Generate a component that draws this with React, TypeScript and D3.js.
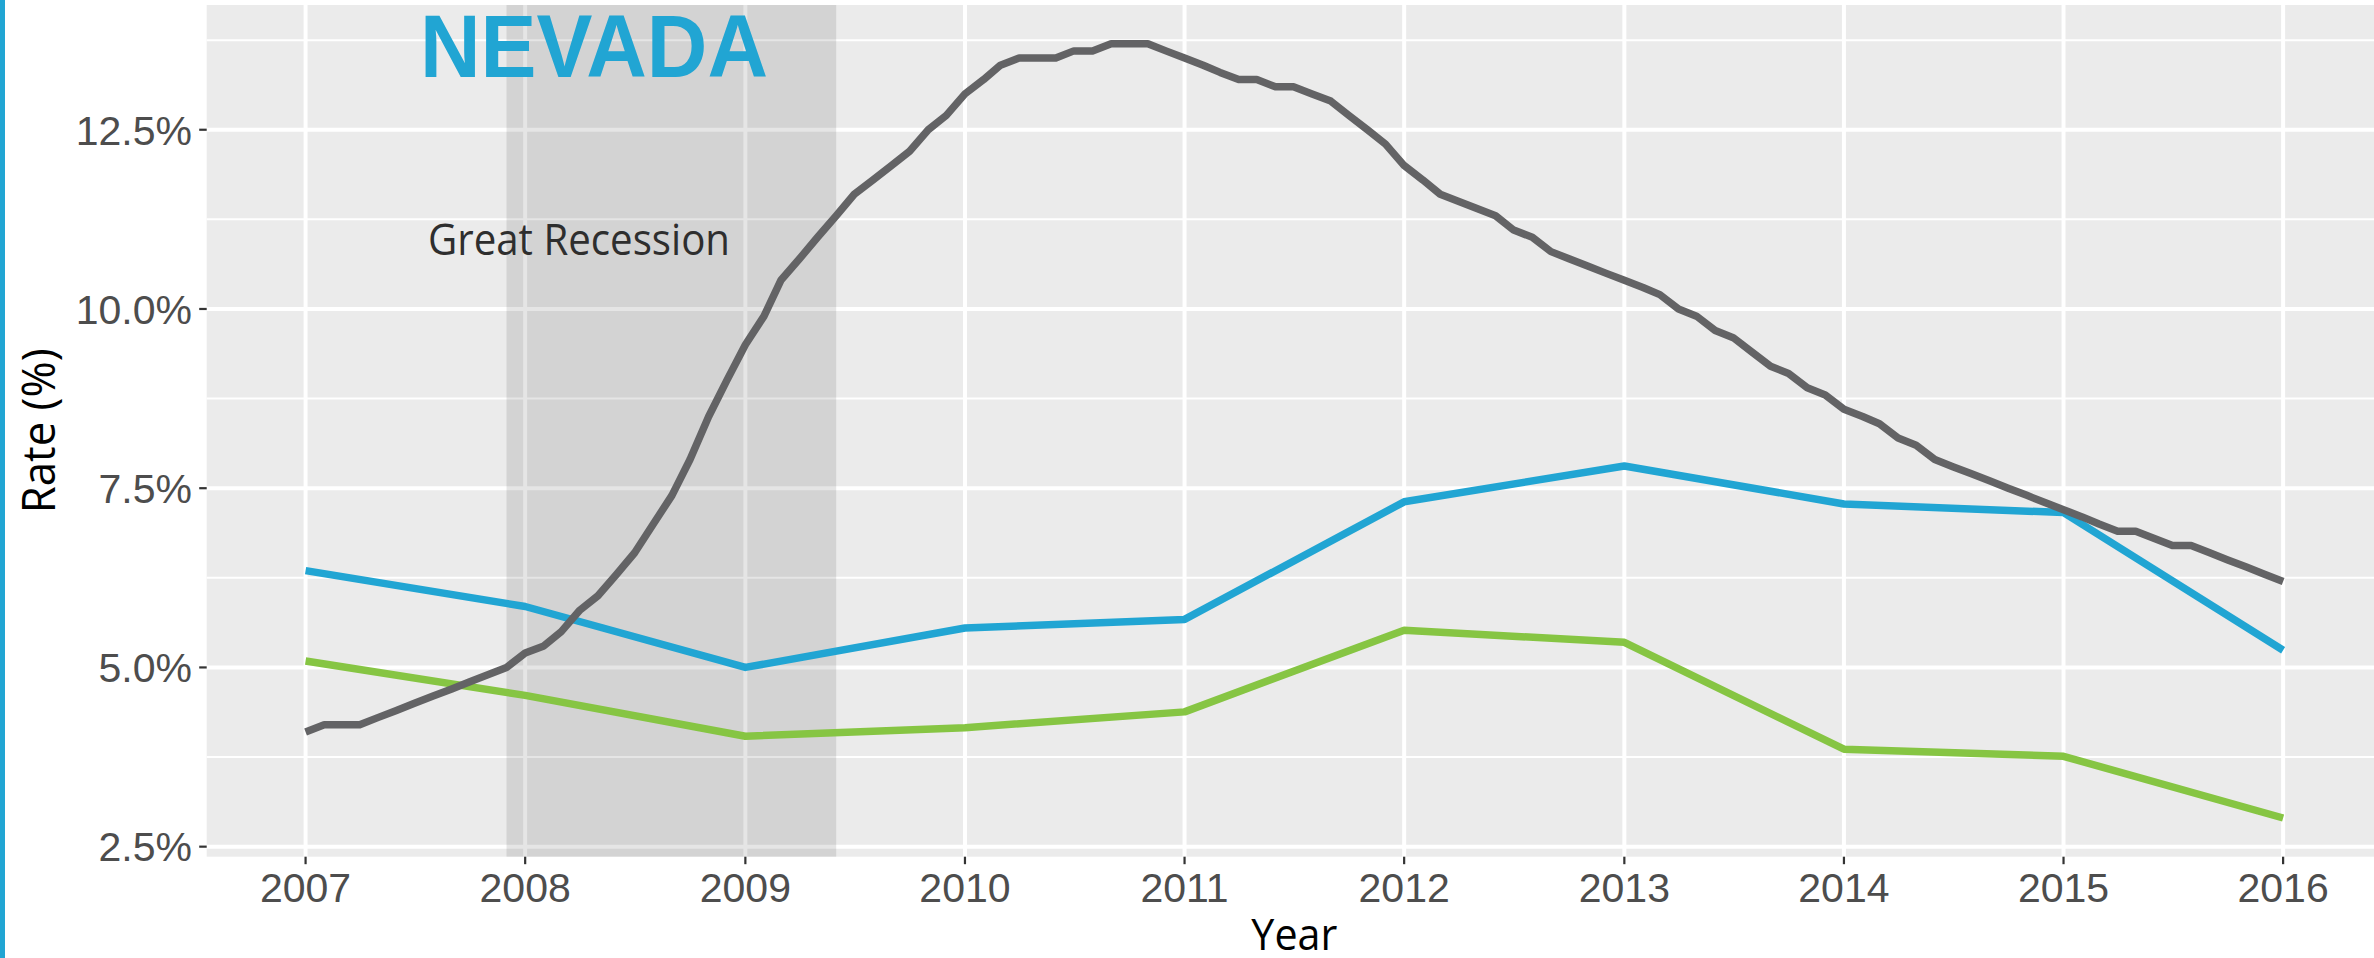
import React, { useEffect, useRef } from "react";
import * as d3 from "d3";

// annual series (Jan 1 of each year)
const years = [2007, 2008, 2009, 2010, 2011, 2012, 2013, 2014, 2015, 2016];
const blueRate = [6.35, 5.85, 5.0, 5.55, 5.67, 7.31, 7.81, 7.28, 7.16, 5.24];
const greenRate = [5.09, 4.61, 4.04, 4.16, 4.38, 5.52, 5.35, 3.86, 3.76, 2.9];

// monthly unemployment rate, Jan 2007 .. Jan 2016
const monthlyRate = [
  4.1, 4.2, 4.2, 4.2, 4.3, 4.4, 4.5, 4.6, 4.7, 4.8, 4.9, 5.0,
  5.2, 5.3, 5.5, 5.8, 6.0, 6.3, 6.6, 7.0, 7.4, 7.9, 8.5, 9.0,
  9.5, 9.9, 10.4, 10.7, 11.0, 11.3, 11.6, 11.8, 12.0, 12.2, 12.5, 12.7,
  13.0, 13.2, 13.4, 13.5, 13.5, 13.5, 13.6, 13.6, 13.7, 13.7, 13.7, 13.6,
  13.5, 13.4, 13.3, 13.2, 13.2, 13.1, 13.1, 13.0, 12.9, 12.7, 12.5, 12.3,
  12.0, 11.8, 11.6, 11.5, 11.4, 11.3, 11.1, 11.0, 10.8, 10.7, 10.6, 10.5,
  10.4, 10.3, 10.2, 10.0, 9.9, 9.7, 9.6, 9.4, 9.2, 9.1, 8.9, 8.8,
  8.6, 8.5, 8.4, 8.2, 8.1, 7.9, 7.8, 7.7, 7.6, 7.5, 7.4, 7.3,
  7.2, 7.1, 7.0, 6.9, 6.9, 6.8, 6.7, 6.7, 6.6, 6.5, 6.4, 6.3,
  6.2,
];

const yMajor = [2.5, 5, 7.5, 10, 12.5];
const yMinor = [3.75, 6.25, 8.75, 11.25, 13.75];
const recession = [new Date(Date.UTC(2007, 11, 1)), new Date(Date.UTC(2009, 5, 1))];

const W = 2374;
const H = 958;

function App() {
  const svgRef = useRef<SVGSVGElement>(null);

  useEffect(() => {
    const svg = d3.select(svgRef.current);
    svg.selectAll("*").remove();

    const panel = { left: 206.7, right: 2382, top: 5, bottom: 856.7 };

    const t0 = Date.UTC(years[0], 0, 1);
    const t1 = Date.UTC(years[years.length - 1], 0, 1);
    const tPad = (t1 - t0) * 0.05;
    const x = d3
      .scaleUtc()
      .domain([new Date(t0 - tPad), new Date(t1 + tPad)])
      .range([panel.left, panel.right]);

    const all = [...blueRate, ...greenRate, ...monthlyRate];
    const lo = d3.min(all)!;
    const hi = d3.max(all)!;
    const yPad = (hi - lo) * 0.05;
    const y = d3
      .scaleLinear()
      .domain([lo - yPad, hi + yPad])
      .range([panel.bottom, panel.top]);

    const yearDate = (yr: number) => new Date(Date.UTC(yr, 0, 1));

    // left blue accent bar
    svg.append("rect").attr("x", 0).attr("y", 0).attr("width", 5).attr("height", H).attr("fill", "#21a5d3");

    // panel
    svg
      .append("rect")
      .attr("x", panel.left)
      .attr("y", panel.top)
      .attr("width", panel.right - panel.left)
      .attr("height", panel.bottom - panel.top)
      .attr("fill", "#ebebeb");

    const grid = svg.append("g").attr("stroke", "#ffffff");
    grid
      .selectAll("line.minor")
      .data(yMinor)
      .enter()
      .append("line")
      .attr("x1", panel.left)
      .attr("x2", panel.right)
      .attr("y1", (d) => y(d))
      .attr("y2", (d) => y(d))
      .attr("stroke-width", 2);
    grid
      .selectAll("line.hmajor")
      .data(yMajor)
      .enter()
      .append("line")
      .attr("x1", panel.left)
      .attr("x2", panel.right)
      .attr("y1", (d) => y(d))
      .attr("y2", (d) => y(d))
      .attr("stroke-width", 4);
    grid
      .selectAll("line.vmajor")
      .data(years)
      .enter()
      .append("line")
      .attr("x1", (d) => x(yearDate(d)))
      .attr("x2", (d) => x(yearDate(d)))
      .attr("y1", panel.top)
      .attr("y2", panel.bottom)
      .attr("stroke-width", 4);

    // Great Recession shading
    svg
      .append("rect")
      .attr("x", x(recession[0]))
      .attr("y", panel.top)
      .attr("width", x(recession[1]) - x(recession[0]))
      .attr("height", panel.bottom - panel.top)
      .attr("fill", "#000000")
      .attr("fill-opacity", 0.1);

    const line = d3
      .line<[Date, number]>()
      .x((d) => x(d[0]))
      .y((d) => y(d[1]));

    const series: { values: [Date, number][]; color: string }[] = [
      { values: years.map((yr, i) => [yearDate(yr), greenRate[i]]), color: "#86c543" },
      { values: years.map((yr, i) => [yearDate(yr), blueRate[i]]), color: "#21a5d3" },
      {
        values: monthlyRate.map((v, i) => [new Date(Date.UTC(2007, i, 1)), v]),
        color: "#636365",
      },
    ];

    svg
      .selectAll("path.series")
      .data(series)
      .enter()
      .append("path")
      .attr("d", (d) => line(d.values))
      .attr("fill", "none")
      .attr("stroke", (d) => d.color)
      .attr("stroke-width", 7.5)
      .attr("stroke-linejoin", "round")
      .attr("stroke-linecap", "butt");

    // annotation
    svg
      .append("text")
      .attr("x", 579)
      .attr("y", 255)
      .attr("text-anchor", "middle")
      .attr("font-family", "'Open Sans', 'Noto Sans', sans-serif")
      .attr("font-size", 44)
      .attr("fill", "#2e2e2e")
      .attr("textLength", 302)
      .attr("lengthAdjust", "spacingAndGlyphs")
      .text("Great Recession");

    // title
    svg
      .append("text")
      .attr("x", 594)
      .attr("y", 77)
      .attr("text-anchor", "middle")
      .attr("font-family", "'Liberation Sans', Arial, sans-serif")
      .attr("font-weight", "bold")
      .attr("font-size", 89)
      .attr("fill", "#21a5d3")
      .attr("textLength", 348)
      .attr("lengthAdjust", "spacingAndGlyphs")
      .text("NEVADA");

    // y axis
    const yAxis = svg.append("g");
    yAxis
      .selectAll("line")
      .data(yMajor)
      .enter()
      .append("line")
      .attr("x1", panel.left - 7.5)
      .attr("x2", panel.left)
      .attr("y1", (d) => y(d))
      .attr("y2", (d) => y(d))
      .attr("stroke", "#333333")
      .attr("stroke-width", 2.2);
    yAxis
      .selectAll("text")
      .data(yMajor)
      .enter()
      .append("text")
      .attr("x", 192)
      .attr("y", (d) => y(d))
      .attr("dy", "0.36em")
      .attr("text-anchor", "end")
      .attr("font-family", "'Liberation Sans', Arial, sans-serif")
      .attr("font-size", 41)
      .attr("fill", "#4d4d4d")
      .text((d) => d3.format(".1f")(d) + "%");

    // x axis
    const xAxis = svg.append("g");
    xAxis
      .selectAll("line")
      .data(years)
      .enter()
      .append("line")
      .attr("x1", (d) => x(yearDate(d)))
      .attr("x2", (d) => x(yearDate(d)))
      .attr("y1", panel.bottom)
      .attr("y2", panel.bottom + 7.5)
      .attr("stroke", "#333333")
      .attr("stroke-width", 2.2);
    xAxis
      .selectAll("text")
      .data(years)
      .enter()
      .append("text")
      .attr("x", (d) => x(yearDate(d)))
      .attr("y", 902)
      .attr("text-anchor", "middle")
      .attr("font-family", "'Liberation Sans', Arial, sans-serif")
      .attr("font-size", 41)
      .attr("fill", "#4d4d4d")
      .text((d) => String(d));

    // axis titles
    svg
      .append("text")
      .attr("x", (panel.left + panel.right) / 2)
      .attr("y", 950)
      .attr("text-anchor", "middle")
      .attr("font-family", "'Open Sans', 'Noto Sans', sans-serif")
      .attr("font-size", 44)
      .attr("fill", "#000000")
      .attr("textLength", 86)
      .attr("lengthAdjust", "spacingAndGlyphs")
      .text("Year");

    svg
      .append("text")
      .attr("transform", `translate(55, ${(panel.top + panel.bottom) / 2}) rotate(-90)`)
      .attr("text-anchor", "middle")
      .attr("font-family", "'Open Sans', 'Noto Sans', sans-serif")
      .attr("font-size", 45)
      .attr("fill", "#000000")
      .attr("textLength", 165)
      .attr("lengthAdjust", "spacingAndGlyphs")
      .text("Rate (%)");
  }, []);

  return (
    <div style={{ position: "absolute", left: 0, top: 0, width: W, height: H, overflow: "hidden" }}>
      <svg ref={svgRef} width={W} height={H} style={{ display: "block", background: "#ffffff" }}></svg>
    </div>
  );
}

export default App;
